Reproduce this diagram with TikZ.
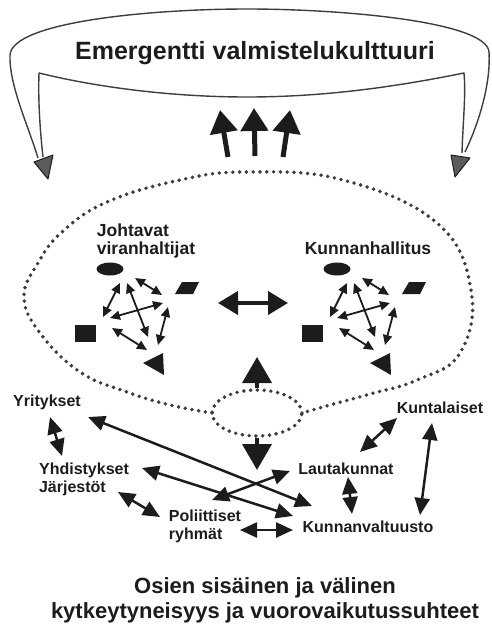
\documentclass[tikz,border=0pt]{standalone}
\usepackage{fontspec}
\setmainfont{Liberation Sans}
\usetikzlibrary{arrows.meta,shapes.geometric}
\definecolor{ink}{HTML}{1C1C1C}
\definecolor{dotgray}{HTML}{3C3C3C}
\definecolor{headgray}{HTML}{5C5C5C}
\begin{document}
\begin{tikzpicture}[x=1pt,y=-1pt,
  lbl/.style={font=\bfseries\fontsize{16}{18}\selectfont, text=ink, inner sep=0pt, align=left},
  grouplbl/.style={font=\bfseries\fontsize{17.5}{18}\selectfont, text=ink, inner sep=0pt, align=left},
  dotline/.style={draw=dotgray, line width=3.9pt, line cap=round, dash pattern=on 0pt off 6.8pt},
  bandline/.style={draw=ink!85, line width=1.4pt, line join=round},
  bigarrow/.style={draw=ink, line width=5pt, -{Triangle[length=23pt,width=27pt]}},
  hubarrow/.style={draw=ink, line width=4pt, -{Triangle[length=26pt,width=29pt]}},
  duoarrow/.style={draw=ink, line width=4pt, {Triangle[length=20pt,width=23pt]}-{Triangle[length=20pt,width=23pt]}},
  tinyarrow/.style={draw=ink, line width=1.8pt, {Triangle[length=10pt,width=9pt]}-{Triangle[length=10pt,width=9pt]}},
  link/.style={draw=ink, line width=2.5pt, {Triangle[length=17pt,width=15pt]}-{Triangle[length=17pt,width=15pt]}},
  cluster/.pic={
    \node[ellipse, fill=ink, minimum width=27pt, minimum height=13pt, inner sep=0pt] (-oval) at (0,0) {};
    \fill[ink] (65,25) -- (72,13) -- (89,13) -- (83,25) -- cycle;
    \fill[ink] (-35,56) rectangle (-14,73);
    \fill[ink] (33,94) -- (53,84) -- (54,106) -- cycle;
    \draw[tinyarrow] (10,14) -- (-7,48);
    \draw[tinyarrow] (17,14) -- (38,68);
    \draw[tinyarrow] (25,9) -- (52,26);
    \draw[tinyarrow] (53,34) -- (0,49);
    \draw[tinyarrow] (58,38) -- (48,76);
    \draw[tinyarrow] (2,59) -- (37,81);
  }
]
\useasboundingbox (0,0) rectangle (492,632);

% curved banner with its two returning arms
\draw[bandline]
  (38,158) .. controls (28,125) and (9,85) .. (10,55)
  .. controls (12,22) and (150,9) .. (247,9)
  .. controls (345,9) and (487,22) .. (489,52)
  .. controls (491,85) and (478,125) .. (465,152);
\draw[bandline]
  (462,153) .. controls (463,120) and (466,95) .. (464,73)
  .. controls (390,88) and (320,97) .. (247,97)
  .. controls (175,97) and (100,88) .. (39,73)
  .. controls (38,100) and (40,130) .. (43,157);
\filldraw[fill=headgray, draw=ink, line width=1pt, line join=round] (34,162) -- (53,155) -- (48,179) -- cycle;
\filldraw[fill=headgray, draw=ink, line width=1pt, line join=round] (451,155) -- (470,158) -- (455,177) -- cycle;
\node[font=\bfseries\fontsize{25}{28}\selectfont, text=ink, inner sep=0pt] (title) at (255,53) {Emergentti valmistelukulttuuri};

% emergence arrows
\coordinate (e1a) at (228,157); \coordinate (e1b) at (220,110);
\coordinate (e2a) at (255,156); \coordinate (e2b) at (254,108);
\coordinate (e3a) at (283,157); \coordinate (e3b) at (290,110);
\draw[bigarrow] (e1a) -- (e1b);
\draw[bigarrow] (e2a) -- (e2b);
\draw[bigarrow] (e3a) -- (e3b);

% dotted outline of the whole system and its hub
\draw[dotline] plot[smooth, tension=0.7] coordinates {
  (212,413) (170,405) (127,392) (80,372) (40,333) (24,297) (38,263) (62,232)
  (107,202) (180,180) (247,172) (343,180) (437,223) (471,290) (460,353)
  (417,380) (370,394) (330,405) (302,413)};
\node[ellipse, dotline, minimum width=90pt, minimum height=46pt, inner sep=0pt] (hub) at (257,413) {};
\coordinate (up) at (257,357);
\coordinate (down) at (257,470);
\draw[hubarrow] (hub.north) -- (up);
\draw[hubarrow] (hub.south) -- (down);

% two actor clusters
\pic (L) at (110,269) {cluster};
\pic (R) at (337,269) {cluster};
\node[grouplbl] (jv) at (146,241) {Johtavat\\viranhaltijat};
\node[grouplbl] (kh) at (368,248) {Kunnanhallitus};
\coordinate (dl) at (218,303); \coordinate (dr) at (288,303);
\draw[duoarrow] (dl) -- (dr);

% surrounding actors
\node[lbl] (yr) at (47,402) {Yritykset};
\node[lbl] (yh) at (84,479) {Yhdistykset\\Järjestöt};
\node[lbl] (po) at (205,526) {Poliittiset\\ryhmät};
\node[lbl] (la) at (346,469) {Lautakunnat};
\node[lbl] (kv) at (368,527) {Kunnanvaltuusto};
\node[lbl] (ku) at (440,408) {Kuntalaiset};

\coordinate (a1) at (50,417);  \coordinate (a2) at (62,456);
\coordinate (b1) at (118,492); \coordinate (b2) at (160,517);
\coordinate (c1) at (88,417);  \coordinate (c2) at (312,506);
\coordinate (d1) at (142,468); \coordinate (d2) at (293,516);
\coordinate (f1) at (212,500); \coordinate (f2) at (290,471);
\coordinate (g1) at (240,530); \coordinate (g2) at (293,530);
\coordinate (h1) at (348,477); \coordinate (h2) at (352,514);
\coordinate (i1) at (397,418); \coordinate (i2) at (360,452);
\coordinate (j1) at (432,423); \coordinate (j2) at (420,515);
\draw[link] (a1) -- (a2);
\draw[link] (b1) -- (b2);
\draw[link] (c1) -- (c2);
\draw[link] (d1) -- (d2);
\draw[link] (f1) -- (f2);
\draw[link] (g1) -- (g2);
\draw[link] (h1) -- (h2);
\draw[link] (i1) -- (i2);
\draw[link] (j1) -- (j2);

\node[font=\bfseries\fontsize{22}{25}\selectfont, text=ink, inner sep=0pt, align=center] (caption) at (265,600)
  {Osien sisäinen ja välinen\\kytkeytyneisyys ja vuorovaikutussuhteet};
\end{tikzpicture}
\end{document}
